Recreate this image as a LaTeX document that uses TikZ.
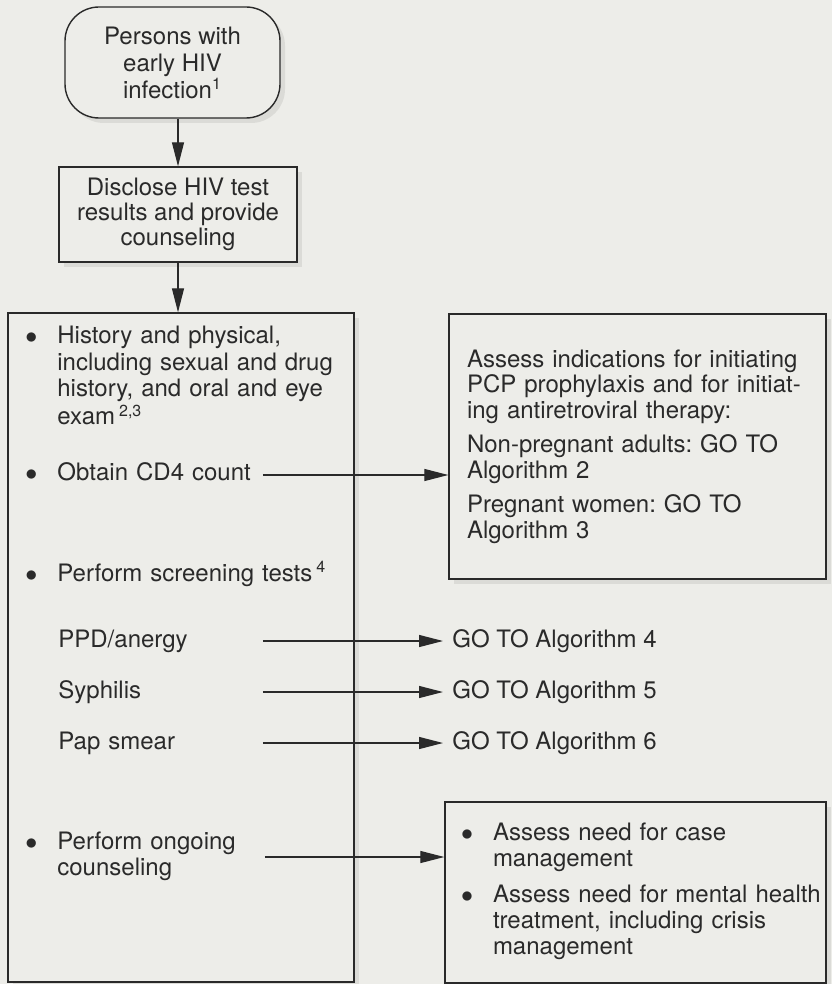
\documentclass[tikz,border=0pt]{standalone}
\usepackage{fontspec}
\setmainfont{TeX Gyre Heros}
\usepackage{tikz}
\usetikzlibrary{positioning,arrows.meta,shadows}
\definecolor{paperGray}{HTML}{EDEDE9}
\definecolor{inkGray}{HTML}{2A2A2A}
\definecolor{shadeGray}{HTML}{CFCFCB}
\frenchspacing

\newcommand{\bitem}[1]{\makebox[16pt][l]{$\bullet$}\begin{tabular}[t]{@{}l@{}}#1\end{tabular}}

\tikzset{
  flowbox/.style={draw=inkGray, line width=0.7pt, fill=paperGray, text=inkGray,
    font=\fontsize{12}{13}\selectfont,
    drop shadow={shadow xshift=2.5pt, shadow yshift=-2.5pt, fill=shadeGray, opacity=0.6}},
  itemtext/.style={anchor=west, inner sep=0pt, align=left, text=inkGray,
    font=\fontsize{12}{13.25}\selectfont},
  gotext/.style={anchor=west, inner xsep=4.5pt, inner ysep=0pt, text=inkGray,
    font=\fontsize{12}{13}\selectfont},
  flowarrow/.style={draw=inkGray, line width=0.6pt, -{Triangle[length=12pt, width=6pt]}}
}

\begin{document}
\begin{tikzpicture}[x=0.5pt, y=-0.5pt]
  % paper
  \fill[paperGray] (0,0) rectangle (832,984);
  \useasboundingbox (0,0) rectangle (832,984);

  % Entry and disclosure
  \node[flowbox, rounded corners=17pt, align=center, minimum width=107.5pt, minimum height=55.5pt, font=\fontsize{12}{13.5}\selectfont] (entry) at (172.5,62.5) {Persons with\\ early HIV\\ infection\textsuperscript{1}};
  \node[flowbox, align=center, minimum width=119pt, minimum height=47.5pt, font=\fontsize{12}{12.5}\selectfont] (disclose) at (178,214.5) {Disclose HIV test\\ results and provide\\ counseling};

  % Initial work-up
  \node[flowbox, minimum width=173pt, minimum height=334.5pt] (workup) at (181,647.5) {};
  \node[itemtext, text width=170pt] (hist) at (25,379) {\bitem{History and physical,\\ including sexual and drug\\ history, and oral and eye\\ exam\,\textsuperscript{2,3}}};
  \node[itemtext, text width=118.5pt] (cd4) at (25,475) {\bitem{Obtain CD4 count}};
  \node[itemtext, text width=185pt] (screen) at (25,575) {\bitem{Perform screening tests\,\textsuperscript{4}}};
  \node[itemtext, text width=102pt] (ppd) at (58,641) {PPD/anergy};
  \node[itemtext, text width=102pt] (syph) at (58,692) {Syphilis};
  \node[itemtext, text width=102pt] (pap) at (58,743) {Pap smear};
  \node[itemtext, text width=119.5pt] (counsel) at (25,857) {\bitem{Perform ongoing\\ counseling}};

  % Referrals
  \node[flowbox, align=left, inner xsep=9pt, text width=170.5pt, minimum width=188.5pt, minimum height=132.5pt, font=\fontsize{12}{12.75}\selectfont] (indic) at (637.5,446.5) {Assess indications for initiating\\ PCP prophylaxis and for initiat-\\ ing antiretroviral therapy:\\[4.5pt] Non-pregnant adults: GO TO\\ Algorithm 2\\[4.5pt] Pregnant women: GO TO\\ Algorithm 3};
  \node[gotext] (go4) at (443,641) {GO TO Algorithm 4};
  \node[gotext] (go5) at (443,692) {GO TO Algorithm 5};
  \node[gotext] (go6) at (443,743) {GO TO Algorithm 6};
  \node[flowbox, align=left, inner xsep=8pt, text width=174.5pt, minimum width=190.5pt, minimum height=90.5pt] (mgmt) at (635.5,892.5) {\bitem{Assess need for case\\ management}\\[4pt] \bitem{Assess need for mental health\\ treatment, including crisis\\ management}};

  % Connectors
  \draw[flowarrow] (entry.south -| disclose.north) -- (disclose.north);
  \draw[flowarrow] (disclose.south) -- (disclose.south |- workup.north);
  \draw[flowarrow] (cd4.east) -- (cd4.east -| indic.west);
  \draw[flowarrow] (ppd.east) -- (go4.west);
  \draw[flowarrow] (syph.east) -- (go5.west);
  \draw[flowarrow] (pap.east) -- (go6.west);
  \draw[flowarrow] (counsel.east) -- (counsel.east -| mgmt.west);
\end{tikzpicture}
\end{document}
